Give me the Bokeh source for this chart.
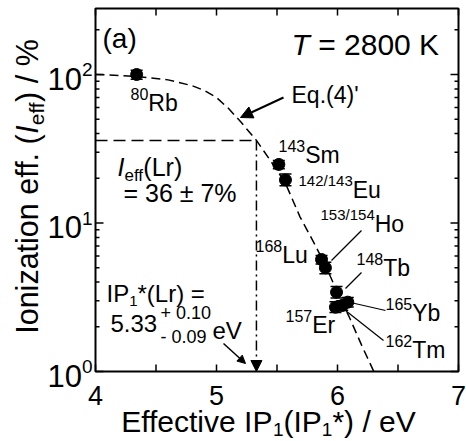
import math
from bokeh.plotting import figure
from bokeh.models import Label, Arrow, NormalHead, Range1d
from bokeh.embed import file_html
from bokeh.resources import INLINE

FONT = "Liberation Sans"

# ---------------- data ----------------
isotope_mass = ["80", "143", "142/143", "153/154", "168", "148", "165", "157", "162"]
isotope_elem = ["Rb", "Sm", "Eu", "Ho", "Lu", "Tb", "Yb", "Er", "Tm"]
ip_eff = [4.34, 5.515, 5.57, 5.868, 5.90, 5.992, 6.085, 5.983, 6.039]
i_eff = [100.0, 24.8, 19.5, 5.68, 4.99, 3.42, 2.93, 2.71, 2.78]
i_lo = [93.0, 23.2, 17.8, 5.30, 4.55, 3.13, 2.72, 2.50, 2.58]
i_hi = [107.0, 26.4, 21.4, 6.05, 5.45, 3.74, 3.15, 2.95, 3.00]

# Eq.(4)' curve, points
curve_x = [4.0, 4.2, 4.4, 4.6, 4.8, 4.9, 5.0, 5.1, 5.2, 5.33, 5.45, 5.57, 5.69, 5.8, 5.9, 6.0, 6.1, 6.2, 6.3]
curve_y = [100, 98.5, 96, 92, 84, 78, 70, 59, 48, 36, 26, 18.5, 11, 7.5, 5.2, 3.4, 2.3, 1.5, 1.0]

lr_ip = 5.33
lr_ieff = 36.0

xticks = [4, 5, 6, 7]
xminor = [4.5, 5.5, 6.5]
yticks = [1, 10, 100]
yminor = [m * d for d in (1, 10, 100) for m in range(2, 10) if m * d < 280]

# ---------------- layout (pixel frame of the axes box) ----------------
WIDTH, HEIGHT = 466, 441
L, R, T, B = 95, 458, 8, 371
X0, X1 = 4.0, 7.0
DEC = 148.5
BASE_FIX = 0.31  # label baseline correction (fraction of font size)


def X(px):
    return X0 + (px - L) * (X1 - X0) / (R - L)


def Y(py):
    return 10 ** ((B - py) / DEC)


YTOP = Y(T)

AW = {' ': 278, '%': 889, "'": 191, '(': 333, ')': 333, '*': 389, '+': 584, '-': 333, '.': 278, '/': 278,
      '=': 584, '±': 584,
      'A': 667, 'B': 667, 'C': 722, 'D': 722, 'E': 667, 'F': 611, 'G': 778, 'H': 722, 'I': 278, 'J': 500,
      'K': 667, 'L': 556, 'M': 833, 'N': 722, 'O': 778, 'P': 667, 'Q': 778, 'R': 722, 'S': 667, 'T': 611,
      'U': 722, 'V': 667, 'W': 944, 'X': 667, 'Y': 667, 'Z': 611,
      'a': 556, 'b': 556, 'c': 500, 'd': 556, 'e': 556, 'f': 278, 'g': 556, 'h': 556, 'i': 222, 'j': 222,
      'k': 500, 'l': 222, 'm': 833, 'n': 556, 'o': 556, 'p': 556, 'q': 556, 'r': 333, 's': 500, 't': 278,
      'u': 556, 'v': 500, 'w': 722, 'x': 500, 'y': 500, 'z': 500}


def tw(s, size):
    return sum(AW.get(c, 556) for c in s) / 1000.0 * size


# the canvas is one frame; the axes box, ticks and texts are drawn inside it
p = figure(width=WIDTH, height=HEIGHT, x_range=Range1d(X(0), X(WIDTH)), y_range=Range1d(Y(HEIGHT), Y(0)),
           y_axis_type="log", x_axis_location=None, y_axis_location=None,
           output_backend="svg", toolbar_location=None,
           min_border_left=0, min_border_right=0, min_border_top=0, min_border_bottom=0)
p.background_fill_color = "white"
p.border_fill_color = "white"
p.outline_line_color = None
p.xgrid.visible = False
p.ygrid.visible = False


def put(text, px, py, size, align="left", italic=False, angle=0.0):
    if angle == 0:
        py = py - BASE_FIX * size
    else:
        px = px - BASE_FIX * size
    p.add_layout(Label(x=X(px), y=Y(py), text=text, angle=angle, text_font=FONT,
                       text_font_size=f"{size}px", text_font_style="italic" if italic else "normal",
                       text_align=align, text_baseline="alphabetic", text_color="black"))


def rich(parts, px, py, align="left", angle=0.0):
    widths = [tw(t, s) for (t, s, d, it) in parts]
    total = sum(widths)
    pos = -{"left": 0.0, "center": total / 2.0, "right": total}[align]
    for (t, s, d, it), w in zip(parts, widths):
        lead = len(t) - len(t.lstrip(" "))
        q = pos + tw(" " * lead, s)
        if angle == 0:
            x, y = px + q, py - d
        else:
            x, y = px - d, py - q
        put(t.strip(" "), x, y, s, italic=it, angle=angle)
        pos += w


# ---------------- curves and lines ----------------
p.line(curve_x, curve_y, line_color="black", line_width=1.5, line_dash="9 5")
p.line([X0, lr_ip], [lr_ieff, lr_ieff], line_color="black", line_width=1.5, line_dash="12 6")
p.add_layout(Arrow(end=NormalHead(size=11, fill_color="black", line_color="black"),
                   x_start=lr_ip, y_start=lr_ieff, x_end=lr_ip, y_end=1.0,
                   line_color="black", line_width=1.5, line_dash="10 4 2 4"))

# error bars and points
p.segment(ip_eff, i_lo, ip_eff, i_hi, line_color="black", line_width=1.5)
p.scatter(ip_eff, i_lo, marker="dash", size=12, line_color="black", line_width=1.5)
p.scatter(ip_eff, i_hi, marker="dash", size=12, line_color="black", line_width=1.5)
p.scatter(ip_eff, i_eff, marker="circle", size=12, fill_color="black", line_color="black")

# arrows
p.add_layout(Arrow(end=NormalHead(size=12, fill_color="black", line_color="black"),
                   x_start=X(283), y_start=Y(97), x_end=X(240), y_end=Y(117),
                   line_color="black", line_width=2))
p.add_layout(Arrow(end=NormalHead(size=8, fill_color="black", line_color="black"),
                   x_start=X(223), y_start=Y(343), x_end=X(245), y_end=Y(363),
                   line_color="black", line_width=1.5))

# leader lines (label -> point)
lead = [((361, 230), (331, 260)), ((361, 272), (345, 288)), ((385, 310), (350, 302)), ((383, 340), (345, 310))]
p.segment([X(a[0]) for a, b in lead], [Y(a[1]) for a, b in lead],
          [X(b[0]) for a, b in lead], [Y(b[1]) for a, b in lead], line_color="black", line_width=1.2)

# ---------------- axes box and inward ticks ----------------
xt_all = xticks + xminor
p.segment(xt_all, [1] * len(xt_all), xt_all, [Y(B - 7)] * len(xt_all), line_color="black", line_width=1.5)
p.segment(xt_all, [YTOP] * len(xt_all), xt_all, [Y(T + 7)] * len(xt_all), line_color="black", line_width=1.5)
p.segment([X0] * len(yticks), yticks, [X(L + 8)] * len(yticks), yticks, line_color="black", line_width=1.5)
p.segment([X1] * len(yticks), yticks, [X(R - 8)] * len(yticks), yticks, line_color="black", line_width=1.5)
p.segment([X0] * len(yminor), yminor, [X(L + 4)] * len(yminor), yminor, line_color="black", line_width=1.5)
p.segment([X1] * len(yminor), yminor, [X(R - 4)] * len(yminor), yminor, line_color="black", line_width=1.5)
p.quad(left=[X0], right=[X1], bottom=[1], top=[YTOP], fill_color=None, line_color="black", line_width=2)

# ---------------- texts ----------------
for v in xticks:
    put(str(v), L + (v - X0) * (R - L) / (X1 - X0), 403, 27, align="center")
for v in yticks:
    e = str(int(round(math.log10(v))))
    py = B - math.log10(v) * DEC
    put(e, 92, py + 1, 19, align="right")
    put("10", 92 - tw(e, 19), py + 14, 31, align="right")

# axis titles
rich([("Effective IP", 30, 0, False), ("1", 19, -5, False), ("(IP", 30, 0, False),
      ("1", 19, -5, False), ("*) / eV", 30, 0, False)], 268, 430, align="center")
rich([("Ionization eff. (", 30.5, 0, False), ("I", 30.5, 0, True), ("eff", 21, -7, False),
      (") / %", 30.5, 0, False)], 36, 186, align="center", angle=math.pi / 2)

# panel texts
rich([("(a)", 28, 0, False)], 102, 47)
rich([("T", 30, 0, True), (" = 2800 K", 30, 0, False)], 291, 53)
rich([("Eq.(4)'", 23, 0, False)], 291, 102)

label_pos = [(130, 110), (278, 162), (298, 197), (320, 231), (255, 262), (356, 275), (385, 320), (285, 332), (385, 357)]
for (m, el), (lx, ly) in zip(zip(isotope_mass, isotope_elem), label_pos):
    ss = 15 if "/" in m else 16
    rich([(m, ss, 12, False), (el, 23, 0, False)], lx, ly)

rich([("I", 25, 0, True), ("eff", 17, -6, False), ("(Lr)", 25, 0, False)], 117, 174)
rich([("= 36 ± 7%", 25, 0, False)], 123, 200)
rich([("IP", 24, 0, False), ("1", 15, -5, False), ("*(Lr) =", 24, 0, False)], 106, 300)
rich([("5.33", 24, 0, False)], 110, 330)
rich([("+ 0.10", 18, 0, False)], 160, 318)
rich([("- 0.09", 18, 0, False)], 160, 342)
rich([("eV", 24, 0, False)], 212, 337)

open("out.html", "w").write(file_html(p, INLINE))
